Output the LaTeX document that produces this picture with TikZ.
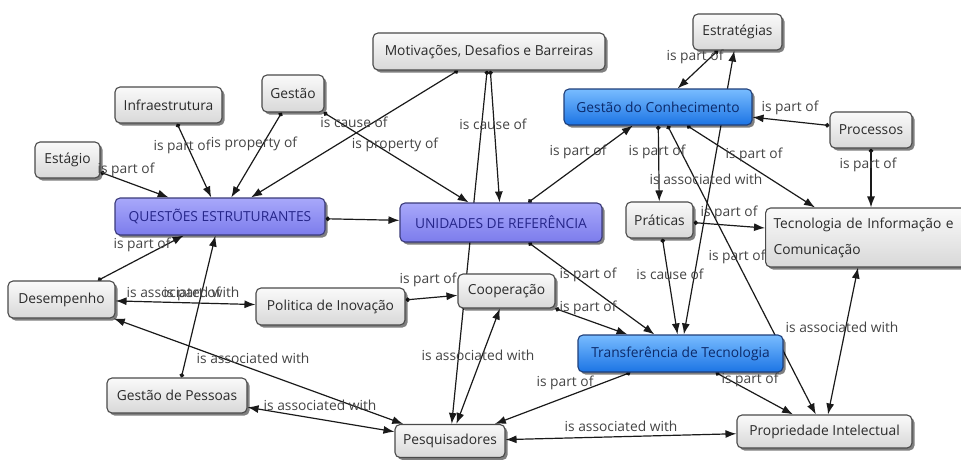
\documentclass[tikz,border=0pt]{standalone}
\usepackage{fontspec}
\setmainfont{Open Sans}
\usetikzlibrary{arrows.meta,shadows,calc,backgrounds}
\definecolor{graytop}{HTML}{FAFAFA}
\definecolor{graybot}{HTML}{D8D8D8}
\definecolor{grayborder}{HTML}{4A4A4A}
\definecolor{graytext}{HTML}{2A2A2A}
\definecolor{bluetop}{HTML}{78BCFF}
\definecolor{bluebot}{HTML}{1C74E4}
\definecolor{blueborder}{HTML}{1F3F7A}
\definecolor{bluetext}{HTML}{0C2A6A}
\definecolor{purptop}{HTML}{A8A8FA}
\definecolor{purpbot}{HTML}{7C7CEC}
\definecolor{purpborder}{HTML}{3A3A7A}
\definecolor{purptext}{HTML}{26268A}
\definecolor{labeltext}{HTML}{444444}
\definecolor{linkcol}{HTML}{1A1A1A}
\tikzset{
  basebox/.style={draw=grayborder, line width=1.1pt, rounded corners=5pt, inner sep=0pt,
    font=\fontsize{13.8}{16}\selectfont,
    drop shadow={shadow xshift=2.5pt, shadow yshift=-2.5pt, fill=black, opacity=0.5}},
  graynode/.style={basebox, top color=graytop, bottom color=graybot, text=graytext},
  bluenode/.style={basebox, draw=blueborder, top color=bluetop, bottom color=bluebot, text=bluetext},
  purpnode/.style={basebox, draw=purpborder, top color=purptop, bottom color=purpbot, text=purptext},
  lbl/.style={font=\fontsize{13.8}{16}\selectfont, text=labeltext, inner sep=0pt},
  link/.style={draw=linkcol, line width=1.2pt},
  dotarrow/.style={link, {Circle[length=4.5pt]}-{Latex[length=11pt,width=8pt]}},
  biarrow/.style={link, {Latex[length=11pt,width=8pt]}-{Latex[length=11pt,width=8pt]}}
}
\begin{document}
\begin{tikzpicture}[x=1pt,y=-1pt]
\useasboundingbox (0,0) rectangle (961,459);
\begin{scope}
\clip (0,0) rectangle (961,459);
% concepts
\node[graynode, minimum width=89pt, minimum height=36pt] (estr) at (737.5,32) {Estratégias};
\node[graynode, minimum width=232pt, minimum height=37pt] (motiv) at (489,51.5) {Motivações, Desafios e Barreiras};
\node[bluenode, minimum width=188pt, minimum height=36pt] (gdc) at (658,107) {Gestão do Conhecimento};
\node[graynode, minimum width=82pt, minimum height=36pt] (proc) at (871,130) {Processos};
\node[graynode, minimum width=107pt, minimum height=36pt] (infra) at (168.5,105) {Infraestrutura};
\node[graynode, minimum width=62pt, minimum height=37pt] (gestao) at (293,93.5) {Gestão};
\node[graynode, minimum width=65pt, minimum height=36pt] (estagio) at (67.5,160) {Estágio};
\node[purpnode, minimum width=210pt, minimum height=37pt] (quest) at (220,216.5) {QUESTÕES ESTRUTURANTES};
\node[purpnode, minimum width=202pt, minimum height=39pt] (unid) at (501,222.5) {UNIDADES DE REFERÊNCIA};
\node[graynode, minimum width=67pt, minimum height=36pt] (prat) at (659.5,220) {Práticas};
\node[graynode, anchor=west, minimum width=230pt, minimum height=59pt, text width=214pt, inner xsep=8pt, align=left,
  font=\fontsize{13.8}{26}\selectfont] (tic) at (765,237.5) {Tecnologia de Informação e\\Comunicação};
\node[graynode, minimum width=107pt, minimum height=37pt] (desemp) at (61.5,299.5) {Desempenho};
\node[graynode, minimum width=149pt, minimum height=37pt] (polit) at (330.5,306.5) {Politica de Inovação};
\node[graynode, minimum width=97pt, minimum height=34pt] (coop) at (506.5,291) {Cooperação};
\node[bluenode, minimum width=205pt, minimum height=37pt] (transf) at (680.5,353.5) {Transferência de Tecnologia};
\node[graynode, minimum width=140pt, minimum height=35pt] (gpess) at (177,395.5) {Gestão de Pessoas};
\node[graynode, minimum width=110pt, minimum height=33pt] (pesq) at (450,441) {Pesquisadores};
\node[graynode, minimum width=175pt, minimum height=33pt] (propr) at (824.5,431.5) {Propriedade Intelectual};
% connectors
\begin{pgfonlayer}{background}
\draw[dotarrow] (estagio) -- (quest);
\draw[dotarrow] (infra) -- (quest);
\draw[dotarrow] (gestao) -- (quest);
\draw[dotarrow] (motiv) -- (quest);
\draw[dotarrow] (gestao) -- (unid);
\draw[dotarrow] (motiv) -- (unid);
\draw[dotarrow] (motiv) -- (pesq);
\draw[dotarrow] (quest) -- (unid);
\draw[dotarrow] (unid) -- (gdc);
\draw[dotarrow] (estr) -- (gdc);
\draw[biarrow] (transf) -- (estr);
\draw[dotarrow] (gdc) -- (prat);
\draw[dotarrow] (gdc) -- ($(tic.north west)+(50,0)$);
\draw[dotarrow] (gdc) -- (propr);
\draw[dotarrow] (proc) -- (gdc);
\draw[dotarrow] (proc) -- (proc |- tic.north);
\draw[dotarrow] (prat) -- ($(tic.west)+(0,-9.5)$);
\draw[dotarrow] (prat) -- (transf);
\draw[dotarrow] (unid) -- (transf);
\draw[dotarrow] (coop) -- (transf);
\draw[dotarrow] (polit) -- (coop);
\draw[biarrow] (desemp) -- (polit);
\draw[dotarrow] (gpess) -- (quest);
\draw[dotarrow] (desemp) -- (quest);
\draw[biarrow] (pesq) -- (desemp);
\draw[biarrow] (gpess) -- (pesq);
\draw[biarrow] (coop) -- (pesq);
\draw[dotarrow] (transf) -- (pesq);
\draw[biarrow] (pesq) -- (propr);
\draw[dotarrow] (transf) -- (propr);
\draw[biarrow] (propr) -- ($(tic.south west)+(93,0)$);
\end{pgfonlayer}
% linking phrases
\node[lbl] (l1) at (126,170) {is part of};
\node[lbl] (l2) at (182,147) {is part of};
\node[lbl] (l3) at (254,144) {is property of};
\node[lbl] (l4) at (354,122) {is cause of};
\node[lbl] (l5) at (395,145) {is property of};
\node[lbl] (l6) at (493,124) {is cause of};
\node[lbl] (l7) at (578,152) {is part of};
\node[lbl] (l8) at (657,152) {is part of};
\node[lbl] (l9) at (754,155) {is part of};
\node[lbl] (l10) at (706,179) {is associated with};
\node[lbl] (l11) at (695,57) {is part of};
\node[lbl] (l12) at (790,108) {is part of};
\node[lbl] (l13) at (868,165) {is part of};
\node[lbl] (l14) at (729,213) {is part of};
\node[lbl] (l15) at (737,257) {is part of};
\node[lbl] (l16) at (670,274) {is cause of};
\node[lbl] (l17) at (588,275) {is part of};
\node[lbl] (l18) at (588,308) {is part of};
\node[lbl] (l19) at (428,280) {is part of};
\node[lbl] (l20) at (183,292) {is associated with};
\node[lbl] (l21) at (192,294) {is part of};
\node[lbl] (l22) at (142,245) {is part of};
\node[lbl] (l23) at (253,358) {is associated with};
\node[lbl] (l24) at (320,405) {is associated with};
\node[lbl] (l25) at (478,355) {is associated with};
\node[lbl] (l26) at (565,383) {is part of};
\node[lbl] (l27) at (621,426) {is associated with};
\node[lbl] (l28) at (750,380) {is part of};
\node[lbl] (l29) at (842,327) {is associated with};
\end{scope}
\end{tikzpicture}
\end{document}
